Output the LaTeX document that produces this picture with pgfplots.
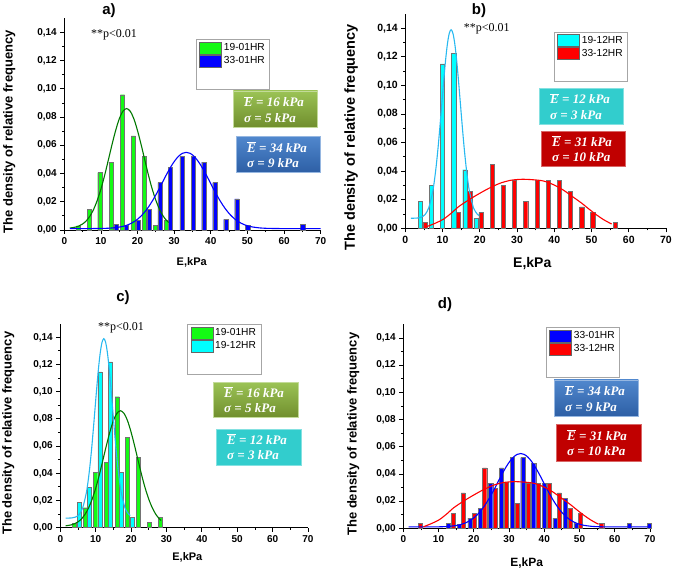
\documentclass[border=0pt]{standalone}
\usepackage{fontspec}
\setmainfont{Liberation Sans}
\newfontfamily\timesfont{Liberation Serif}
\usepackage{pgfplots}
\usepackage{pgfplotstable}
\pgfplotsset{compat=1.18}

\definecolor{barGreen}{RGB}{20,250,20}
\definecolor{barBlue}{RGB}{0,0,255}
\definecolor{barCyan}{RGB}{0,255,255}
\definecolor{barRed}{RGB}{255,0,0}
\definecolor{crvGreen}{RGB}{0,120,0}
\definecolor{crvBlue}{RGB}{0,0,255}
\definecolor{crvCyan}{RGB}{40,185,240}
\definecolor{crvRed}{RGB}{255,0,0}
\definecolor{boxGreenTop}{RGB}{155,195,85}
\definecolor{boxGreenBot}{RGB}{112,142,45}
\definecolor{boxBlueTop}{RGB}{80,135,205}
\definecolor{boxBlueBot}{RGB}{45,95,165}
\definecolor{boxCyan}{RGB}{50,205,205}
\definecolor{boxRed}{RGB}{192,0,0}

% fitted curves
\pgfplotstableread{
x y
1.5 0.0014
3 0.0020
4 0.00285
5 0.00427
6 0.00649
7 0.00984
8 0.0146
9 0.0210
10 0.0290
11 0.0386
12 0.0493
13 0.0602
14 0.0703
15 0.0787
16 0.0841
17 0.0860
18 0.0841
19 0.0787
20 0.0703
21 0.0602
22 0.0493
23 0.0386
24 0.0290
25 0.0210
26 0.0146
27 0.0098
28 0.0065
28.5 0.0053
}\greencurve

\pgfplotstableread{
x y
1.5 0.0010
8.3 0.00103
11.3 0.00118
13.3 0.00148
15.3 0.00217
16.3 0.00277
17.3 0.0036
18.3 0.00476
19.3 0.0063
20.3 0.0083
21.3 0.01082
22.3 0.0139
23.3 0.01753
24.3 0.0217
25.3 0.0263
26.3 0.0312
27.3 0.0363
28.3 0.0412
29.3 0.0457
30.3 0.0495
31.3 0.0525
32.3 0.05436
33.3 0.0550
34.3 0.05436
35.3 0.0525
36.3 0.0495
37.3 0.0457
38.3 0.0412
39.3 0.0363
40.3 0.0312
41.3 0.0263
42.3 0.0217
43.3 0.01753
44.3 0.0139
45.3 0.01082
46.3 0.0083
47.3 0.0063
48.3 0.00476
49.3 0.0036
50.3 0.00277
51.3 0.00217
53.3 0.00148
55.3 0.00118
58.3 0.00103
63.3 0.0010
70 0.0010
}\bluecurve

\pgfplotstableread{
x y
1.5 0.0070
3.3 0.0072
4.3 0.0078
5.3 0.0096
6.3 0.0144
7.3 0.0249
7.8 0.0331
8.3 0.0437
8.8 0.0565
9.3 0.0713
9.8 0.0871
10.3 0.1028
10.8 0.1173
11.3 0.1289
11.8 0.1364
12.3 0.1390
12.8 0.1364
13.3 0.1289
13.8 0.1173
14.3 0.1028
14.8 0.0871
15.3 0.0713
15.8 0.0565
16.3 0.0437
16.8 0.0331
17.3 0.0249
18.3 0.0144
19.3 0.0100
19.8 0.0090
}\cyancurve

\pgfplotstableread{
x y
5.7 0.0011
8 0.0035
10.2 0.0063
12.3 0.0105
14.3 0.0151
16.8 0.0195
19.2 0.0233
22.3 0.0278
25.4 0.0315
28.3 0.0336
31.3 0.0343
34.2 0.0340
37.1 0.0331
39.8 0.0305
42.4 0.0268
45 0.0220
47.4 0.0175
49.4 0.0133
51.4 0.0093
53.4 0.0058
55.4 0.0030
}\redcurve

\pgfplotsset{
  panel/.style={
    scale only axis,
    anchor=south west,
    axis lines=left,
    axis line style={-, line width=0.8pt},
    xmin=0, xmax=70, ymin=0, ymax=0.15,
    xtick={0,10,20,30,40,50,60,70},
    minor xtick={5,15,25,35,45,55,65},
    ytick={0,0.02,0.04,0.06,0.08,0.1,0.12,0.14},
    minor ytick={0.01,0.03,0.05,0.07,0.09,0.11,0.13},
    tick align=outside,
    major tick length=4pt, minor tick length=2.2pt,
    every tick/.style={line width=0.8pt, black},
    /pgf/number format/assume math mode=true,
    yticklabel style={/pgf/number format/.cd, fixed, fixed zerofill, precision=2, use comma},
    xticklabel style={/pgf/number format/.cd, fixed, precision=0},
    tick label style={font=\bfseries\fontsize{10}{11}\selectfont},
    xlabel={E,kPa}, ylabel={The density of relative frequency},
    legend cell align=left,
    legend style={anchor=north west, draw=black!35, line width=0.7pt,
      font=\fontsize{10.2}{11}\selectfont, inner xsep=3pt, inner ysep=2pt,
      row sep=0.5pt},
    legend image code/.code={\draw[#1, draw=black!60, line width=0.5pt] (0pt,-6pt) rectangle (22pt,6pt);},
    clip=false,
  },
  bars/.style={ybar, bar width=1.15, bar shift=0pt, draw=black!55, line width=0.4pt, fill=#1},
  crv/.style={smooth, no markers, line width=1.1pt, color=#1, forget plot},
}

\newcommand{\Ebar}{$\overline{\mbox{\timesfont\bfseries\itshape E}}$}
\newcommand{\stat}[2]{\Ebar\ = #1 kPa\\ σ = #2 kPa}

\begin{document}
\begin{tikzpicture}[x=1pt,y=1pt]
\useasboundingbox (0,0) rectangle (675,570);

% ---------------- a) ----------------
\begin{axis}[panel, at={(64.3pt,340pt)}, width=256.4pt, height=211.8pt,
  xlabel style={at={(axis description cs:0.497,-0.154)}, anchor=center, font=\bfseries\fontsize{11}{12}\selectfont},
  ylabel style={at={(axis description cs:-0.2145,0.464)}, anchor=center, font=\bfseries\fontsize{13}{14}\selectfont},
  legend style={at={(0.514,0.900)}}]
\addplot[bars=barGreen] coordinates {(3.8,0.003)(6.8,0.0146)(9.7,0.0406)(12.8,0.048)(15.9,0.0958)(18.8,0.0666)(21.8,0.052)(24.8,0.0035)(27.9,0.007)};
\addlegendentry{19-01HR}
\addplot[bars=barBlue] coordinates {(14.1,0.0038)(17,0.0035)(20.1,0.007)(23.1,0.0146)(26.1,0.0335)(29,0.0444)(32.1,0.052)(35.2,0.052)(38.1,0.048)(41.1,0.0335)(44.1,0.0076)(47.1,0.022)(50.1,0.0035)(65.1,0.0038)};
\addlegendentry{33-01HR}
\addlegendimage{empty legend}\addlegendentry{\rule{0pt}{14pt}}
\addplot[crv=crvGreen] table {\greencurve};
\addplot[crv=crvBlue] table {\bluecurve};
\end{axis}

% ---------------- b) ----------------
\begin{axis}[panel, at={(405.3pt,341.7pt)}, width=260.7pt, height=214.3pt,
  tick label style={font=\bfseries\fontsize{10.5}{11}\selectfont},
  xlabel style={at={(axis description cs:0.487,-0.163)}, anchor=center, font=\bfseries\fontsize{14}{15}\selectfont},
  ylabel style={at={(axis description cs:-0.208,0.424)}, anchor=center, font=\bfseries\fontsize{14.5}{15}\selectfont},
  legend style={at={(0.5704,0.9174)}}]
\addplot[bars=barCyan] coordinates {(4.0,0.0187)(7.0,0.030)(9.9,0.115)(13.0,0.1225)(16.0,0.041)(19.0,0.0072)};
\addlegendentry{19-12HR}
\addplot[bars=barRed] coordinates {(5.3,0.004)(14.2,0.011)(17.3,0.026)(20.3,0.011)(23.4,0.0446)(26.3,0.030)(29.3,0.0336)(32.3,0.0187)(35.4,0.0336)(38.4,0.0336)(41.4,0.0336)(44.3,0.026)(47.4,0.015)(50.3,0.011)(56.4,0.004)};
\addlegendentry{33-12HR}
\addlegendimage{empty legend}\addlegendentry{\rule{0pt}{14pt}}
\addplot[crv=crvCyan] table {\cyancurve};
\addplot[crv=crvRed] table {\redcurve};
\end{axis}

% ---------------- c) ----------------
\begin{axis}[panel, at={(60.3pt,42.3pt)}, width=247.7pt, height=204pt,
  xlabel style={at={(axis description cs:0.513,-0.147)}, anchor=center, font=\bfseries\fontsize{11}{12}\selectfont},
  ylabel style={at={(axis description cs:-0.21,0.463)}, anchor=center, font=\bfseries\fontsize{13}{14}\selectfont},
  legend style={at={(0.5127,0.997)}}]
\addplot[bars=barGreen] coordinates {(3.9,0.003)(7.0,0.0147)(10.0,0.0407)(13.1,0.048)(16.1,0.0963)(19.0,0.0664)(22.1,0.0517)(25.1,0.0037)(28.2,0.0074)};
\addlegendentry{19-01HR}
\addplot[bars=barCyan] coordinates {(5.3,0.0184)(8.2,0.0297)(11.2,0.1145)(14.2,0.122)(17.2,0.0407)(20.3,0.0074)};
\addlegendentry{19-12HR}
\addlegendimage{empty legend}\addlegendentry{\rule{0pt}{14pt}}
\addplot[crv=crvGreen] table {\greencurve};
\addplot[crv=crvCyan] table {\cyancurve};
\end{axis}

% ---------------- d) ----------------
\begin{axis}[panel, at={(403.3pt,41.7pt)}, width=246.7pt, height=203.9pt,
  xlabel style={at={(axis description cs:0.5,-0.169)}, anchor=center, font=\bfseries\fontsize{12}{13}\selectfont},
  ylabel style={at={(axis description cs:-0.2027,0.4615)}, anchor=center, font=\bfseries\fontsize{13}{14}\selectfont},
  legend style={at={(0.5784,0.9858)}}]
\addplot[bars=barBlue] coordinates {(12.8,0.0037)(15.9,0.003)(18.9,0.0074)(21.8,0.0147)(24.8,0.033)(27.9,0.0444)(31.0,0.052)(33.9,0.052)(37.0,0.048)(40.0,0.033)(43.0,0.0074)(46.0,0.022)(49.0,0.0037)(64.1,0.0037)(69.8,0.0037)};
\addlegendentry{33-01HR}
\addplot[bars=barRed] coordinates {(4.9,0.0037)(14.2,0.011)(17.0,0.026)(20.1,0.011)(23.1,0.0444)(26.2,0.0294)(29.3,0.0336)(32.2,0.0184)(35.5,0.033)(38.3,0.033)(41.4,0.033)(44.3,0.026)(47.3,0.0147)(50.3,0.011)(56.3,0.0037)};
\addlegendentry{33-12HR}
\addlegendimage{empty legend}\addlegendentry{\rule{0pt}{14pt}}
\addplot[crv=crvBlue] table {\bluecurve};
\addplot[crv=crvRed] table {\redcurve};
\end{axis}

% ---------- panel titles and p-values ----------
\tikzset{ttl/.style={font=\bfseries\fontsize{15}{16}\selectfont},
  pv/.style={font=\timesfont\fontsize{12}{13}\selectfont},
  sbox/.style={text=white, align=left, inner xsep=0pt, inner ysep=0pt,
     font=\timesfont\bfseries\itshape\fontsize{13}{15.5}\selectfont, anchor=west}}
\node[ttl] at (109,559) {a)};
\node[ttl] at (479,559) {b)};
\node[ttl] at (123,272) {c)};
\node[ttl] at (445,265) {d)};

\node[pv] at (114,535.7) {**p<0.01};
\node[pv] at (486.7,541) {**p<0.01};
\node[pv] at (121,242.3) {**p<0.01};

% ---------- statistic boxes ----------
% a
\shade[top color=boxGreenTop, bottom color=boxGreenBot, draw=boxGreenTop!60!white, line width=0.5pt] (233.3,442.7) rectangle (317.7,479);
\node[sbox] at (244,460.8) {\stat{16}{5}};
\shade[top color=boxBlueTop, bottom color=boxBlueBot, draw=boxBlueTop!60!white, line width=0.5pt] (236,397.3) rectangle (320,433.3);
\node[sbox] at (247,415.3) {\stat{34}{9}};
% b
\fill[boxCyan, draw=boxCyan!60!white, line width=0.5pt] (539,445.7) rectangle (623.7,481.7);
\node[sbox] at (550,463.7) {\stat{12}{3}};
\fill[boxRed, draw=boxRed!60!white, line width=0.5pt] (541,403.3) rectangle (625,439);
\node[sbox] at (552,421.2) {\stat{31}{10}};
% c
\shade[top color=boxGreenTop, bottom color=boxGreenBot, draw=boxGreenTop!60!white, line width=0.5pt] (213.3,152.3) rectangle (298.3,187.7);
\node[sbox] at (224,170) {\stat{16}{5}};
\fill[boxCyan, draw=boxCyan!60!white, line width=0.5pt] (216,105) rectangle (301,141);
\node[sbox] at (227,123) {\stat{12}{3}};
% d
\shade[top color=boxBlueTop, bottom color=boxBlueBot, draw=boxBlueTop!60!white, line width=0.5pt] (554,153.3) rectangle (638.3,190);
\node[sbox] at (565,171.7) {\stat{34}{9}};
\fill[boxRed, draw=boxRed!60!white, line width=0.5pt] (556,108.3) rectangle (641,146);
\node[sbox] at (567,127.2) {\stat{31}{10}};
\end{tikzpicture}
\end{document}
